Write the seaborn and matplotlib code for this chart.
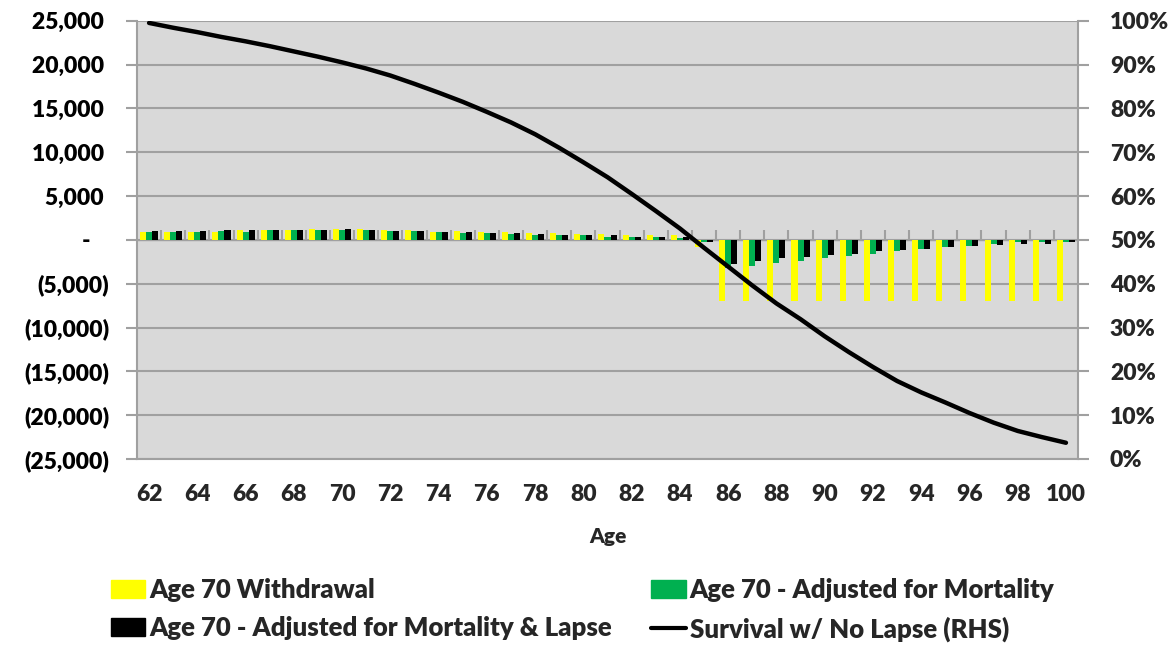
import numpy as np
import pandas as pd
import matplotlib
matplotlib.use("Agg")
import matplotlib.pyplot as plt
from matplotlib.ticker import FixedLocator, FuncFormatter
from matplotlib.patches import Patch
from matplotlib.lines import Line2D
import seaborn as sns

ages = list(range(62, 101))

withdrawal = [870, 870, 950, 950, 1140, 1140, 1140, 1290, 1290, 1250, 1140, 1140, 950,
              1030, 950, 910, 760, 760, 680, 650, 530, 530, 530,
              -760, -7000, -7000, -7000, -7000, -7000, -7000, -7000, -7000, -7000,
              -7000, -7000, -7000, -7000, -7000, -7000]
adj_mortality = [870, 870, 950, 1030, 950, 1140, 1140, 1140, 1140, 1140, 990, 990, 870,
                 830, 830, 680, 600, 530, 530, 380, 380, 300, 230,
                 -270, -3240, -2940, -2670, -2370, -2100, -1830, -1560, -1300, -1100,
                 -840, -690, -460, -300, -230, -200]
adj_mort_lapse = [980, 980, 980, 1140, 1140, 1140, 1140, 1140, 1250, 1140, 990, 990, 870,
                  910, 800, 800, 650, 600, 530, 530, 380, 380, 380,
                  -200, -2700, -2440, -2100, -1980, -1680, -1560, -1260, -1140, -1030,
                  -760, -690, -570, -460, -460, -260]
survival = [99.5, 98.4, 97.4, 96.3, 95.3, 94.2, 93.0, 91.8, 90.5, 89.1, 87.5, 85.6, 83.6,
            81.5, 79.2, 76.8, 74.1, 71.0, 67.7, 64.3, 60.5, 56.6, 52.6, 48.2, 43.9,
            39.6, 35.5, 31.9, 28.0, 24.4, 21.0, 17.8, 15.2, 12.9, 10.5, 8.3, 6.4, 5.0, 3.7]

series_names = ["Age 70 Withdrawal", "Age 70 - Adjusted for Mortality",
                "Age 70 - Adjusted for Mortality & Lapse"]
line_name = "Survival w/ No Lapse (RHS)"
colors = ["#FFFF00", "#00B050", "#000000"]

left_ticks = list(range(-25000, 25001, 5000))
right_ticks = list(range(0, 101, 10))

df = pd.DataFrame({
    "Age": ages * 3,
    "Series": sum([[s] * len(ages) for s in series_names], []),
    "Value": withdrawal + adj_mortality + adj_mort_lapse,
})

sns.set_style("white")
plt.rcParams["font.family"] = ["Lato", "DejaVu Sans"]
plt.rcParams["font.weight"] = "heavy"
W = "heavy"

fig = plt.figure(figsize=(11.72, 6.48), dpi=100)
ax = fig.add_axes([0.1169, 0.2917, 0.8029, 0.6763])
ax.set_facecolor("#D9D9D9")

sns.barplot(data=df, x="Age", y="Value", hue="Series", hue_order=series_names,
            palette=colors, width=0.75, saturation=1, gap=0, legend=False,
            linewidth=0, ax=ax, zorder=2)

ax.set_xlim(-0.5, len(ages) - 0.5)
ax.set_ylim(-25000, 25000)

grid_c = "#A0A0A0"
ax.yaxis.set_major_locator(FixedLocator(left_ticks))
ax.yaxis.grid(True, color=grid_c, lw=1.5, zorder=0)
ax.xaxis.grid(False)
ax.set_axisbelow(True)


def fmt_left(v, pos):
    if v == 0:
        return "-\u2007\u2008"
    if v < 0:
        return f"({abs(v):,.0f})"
    return f"{v:,.0f}\u2008"


ax.yaxis.set_major_formatter(FuncFormatter(fmt_left))
ax.tick_params(axis="y", direction="out", length=8, width=1.5, color=grid_c,
               labelsize=16.5, pad=12, labelcolor="black")
for t in ax.get_yticklabels():
    t.set_fontweight(W)

idx = np.arange(len(ages))
ax.set_xticks(idx[::2])
ax.set_xticklabels([str(a) for a in ages[::2]], fontweight=W)
ax.tick_params(axis="x", length=0, labelsize=16.5, pad=18)
ax.set_xlabel("Age", fontsize=15, fontweight=W, labelpad=16)
ax.set_ylabel("")

# zero line with category tick marks
sec = ax.secondary_xaxis(0.5)
sec.set_xticks(idx[:-1] + 0.5)
sec.tick_params(axis="x", direction="out", length=7, width=1.5, color=grid_c,
                labelbottom=False, labeltop=False)
sec.spines["bottom"].set_color(grid_c)
sec.spines["bottom"].set_linewidth(2)

for side in ["left", "bottom"]:
    ax.spines[side].set_color(grid_c)
    ax.spines[side].set_linewidth(1.5)
ax.spines["top"].set_visible(False)
ax.spines["right"].set_visible(False)

ax2 = ax.twinx()
sns.lineplot(x=idx, y=survival, ax=ax2, color="black", lw=3.2, legend=False)
ax2.set_ylim(0, 100)
ax2.yaxis.set_major_locator(FixedLocator(right_ticks))
ax2.yaxis.set_major_formatter(FuncFormatter(lambda v, p: f"{v:.0f}%"))
ax2.tick_params(axis="y", direction="out", length=8, width=1.5, color=grid_c,
                labelsize=16.5, pad=15)
for t in ax2.get_yticklabels():
    t.set_fontweight(W)
ax2.set_ylabel("")
for side in ["left", "bottom", "top"]:
    ax2.spines[side].set_visible(False)
ax2.spines["right"].set_color(grid_c)
ax2.spines["right"].set_linewidth(1.5)

handles = [Patch(color=colors[0]), Patch(color=colors[2]),
           Patch(color=colors[1]), Line2D([0], [0], color="black", lw=3)]
labels = [series_names[0], series_names[2], series_names[1], line_name]
fig.legend(handles, labels, loc="upper left", bbox_to_anchor=(0.0945, 0.108),
           ncol=2, frameon=False, handlelength=1.35, handleheight=0.7,
           handletextpad=0.16, columnspacing=1.5, labelspacing=0.55,
           prop={"weight": W, "size": 18.5}, borderaxespad=0, borderpad=0)

fig.savefig("out.png", dpi=100)
